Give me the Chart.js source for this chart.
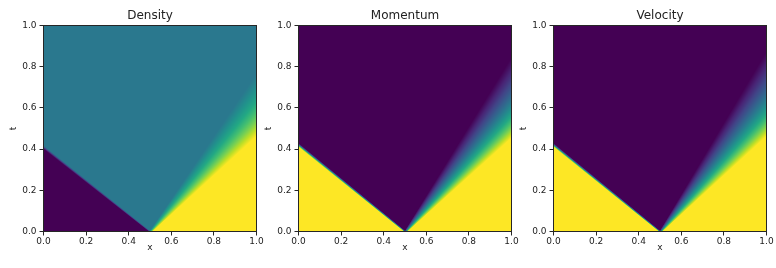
<!DOCTYPE html>
<html><head><meta charset="utf-8">
<script src="https://cdn.jsdelivr.net/npm/chart.js@4"></script>
<style>
html,body{margin:0;padding:0;background:#fff;}
#wrap{position:relative;width:776px;height:268px;background:#fff;}
canvas{position:absolute;left:0;top:0;}
</style>
</head><body>
<div id="wrap">
<canvas id="c0" width="776" height="268"></canvas>
<canvas id="c1" width="776" height="268"></canvas>
<canvas id="c2" width="776" height="268"></canvas>
</div>
<script>
// ---- data ----
const panelTitles = ['Density', 'Momentum', 'Velocity'];
const xTickValues = [0, 0.2, 0.4, 0.6, 0.8, 1.0];
const xTickLabels = ['0.0', '0.2', '0.4', '0.6', '0.8', '1.0'];
const tTickValues = [0, 0.2, 0.4, 0.6, 0.8, 1.0];
const tTickLabels = ['0.0', '0.2', '0.4', '0.6', '0.8', '1.0'];
const jumpPositions = [0.5, 0.5, 0.5];         // x of the initial discontinuity
const leftStates = [0.0, 1.0, 1.0];            // colour value left of the left wave
const middleStates = [0.4, 0.0, 0.0];          // colour value between the waves
const rightStates = [1.0, 1.0, 1.0];           // colour value right of the fan
const shockSpeeds = [1.22, 1.19, 1.19];        // left wave: x = x0 - s t
const fanSlowSpeeds = [0.67, 0.61, 0.59];      // fan edge next to middle state
const fanFastSpeeds = [1.04, 1.06, 1.04];      // fan edge next to right state
const gridCols = 213, gridRows = 206;

// ---- layout ----
const areaLeft = [43.5, 298.5, 553.5];
const areaRight = [256.5, 511.5, 766.5];
const areaTop = 25.5, areaBottom = 231.5;
const yAxisWidth = 43.5;

// ---- viridis colormap ----
const viridisStops = ['#440154','#482475','#414487','#355f8d','#2a788e','#21918c','#22a884','#44bf70','#7ad151','#bddf26','#fde725'];
const vRGB = viridisStops.map(h => [parseInt(h.slice(1,3),16), parseInt(h.slice(3,5),16), parseInt(h.slice(5,7),16)]);
function viridis(v) {
  v = Math.max(0, Math.min(1, v));
  const p = v * (vRGB.length - 1);
  const i = Math.min(vRGB.length - 2, Math.floor(p));
  const f = p - i;
  const a = vRGB[i], b = vRGB[i + 1];
  return 'rgb(' + Math.round(a[0] + (b[0]-a[0])*f) + ',' + Math.round(a[1] + (b[1]-a[1])*f) + ',' + Math.round(a[2] + (b[2]-a[2])*f) + ')';
}
function smooth(u) { u = Math.max(0, Math.min(1, u)); return u * u * (3 - 2 * u); }

function buildCells(k) {
  const cells = [];
  const x0 = jumpPositions[k];
  for (let j = 0; j < gridRows; j++) {
    const tl = j / gridRows, th = (j + 1) / gridRows, t = (tl + th) / 2;
    const w = 0.014 + 0.03 * t;
    for (let i = 0; i < gridCols; i++) {
      const xl = i / gridCols, xh = (i + 1) / gridCols, x = (xl + xh) / 2;
      let v;
      if (x < x0) {
        const xs = x0 - shockSpeeds[k] * t;
        const f = smooth((x - xs) / w + 0.5);
        v = leftStates[k] + (middleStates[k] - leftStates[k]) * f;
      } else {
        const xa = x0 + fanSlowSpeeds[k] * t, xb = x0 + fanFastSpeeds[k] * t;
        const g = Math.max(0, Math.min(1, (x - xa + w / 2) / (xb - xa + w)));
        v = middleStates[k] + (rightStates[k] - middleStates[k]) * g;
      }
      cells.push({x: x, y: t, x0: xl, x1: xh, y0: tl, y1: th, v: v});
    }
  }
  return cells;
}

const snap = p => Math.round(p + 0.25);
const heatPlugin = {
  id: 'heat',
  beforeDatasetsDraw(chart) {
    const {ctx, chartArea: a, scales} = chart;
    const sx = scales.x, sy = scales.y;
    ctx.save();
    ctx.beginPath(); ctx.rect(a.left, a.top, a.right - a.left, a.bottom - a.top); ctx.clip();
    for (const c of chart.data.datasets[0].data) {
      const px0 = snap(sx.getPixelForValue(c.x0)), px1 = snap(sx.getPixelForValue(c.x1));
      const py0 = snap(sy.getPixelForValue(c.y1)), py1 = snap(sy.getPixelForValue(c.y0));
      if (px1 <= px0 || py1 <= py0) continue;
      ctx.fillStyle = viridis(c.v);
      ctx.fillRect(px0, py0, px1 - px0, py1 - py0);
    }
    ctx.restore();
  },
  afterDraw(chart) {
    const {ctx, chartArea: a} = chart;
    const k = chart.options.plugins.heat.panel;
    ctx.save();
    ctx.strokeStyle = '#262626'; ctx.lineWidth = 1;
    ctx.strokeRect(a.left, a.top, a.right - a.left, a.bottom - a.top);
    ctx.fillStyle = '#222';
    ctx.font = '12px "DejaVu Sans"';
    ctx.textAlign = 'center'; ctx.textBaseline = 'alphabetic';
    ctx.fillText(panelTitles[k], (a.left + a.right) / 2, 19);
    ctx.font = '9px "DejaVu Sans"';
    ctx.fillText('x', (a.left + a.right) / 2, 250);
    ctx.translate(a.left - 28, (a.top + a.bottom) / 2);
    ctx.rotate(-Math.PI / 2);
    ctx.fillText('t', 0, 0);
    ctx.restore();
  }
};

for (let k = 0; k < 3; k++) {
  new Chart(document.getElementById('c' + k), {
    type: 'scatter',
    data: { datasets: [{ data: buildCells(k), pointRadius: 0, pointHoverRadius: 0, showLine: false }] },
    options: {
      responsive: false, animation: false, devicePixelRatio: 1,
      events: [],
      layout: { padding: { left: areaLeft[k] - yAxisWidth, right: 776 - areaRight[k], top: areaTop, bottom: 0 } },
      plugins: { legend: { display: false }, tooltip: { enabled: false }, heat: { panel: k } },
      scales: {
        x: {
          type: 'linear', min: 0, max: 1,
          afterBuildTicks: s => { s.ticks = xTickValues.map(v => ({ value: v })); },
          afterFit: s => { s.height = 268 - areaBottom; },
          grid: { display: true, drawOnChartArea: false, drawTicks: true, tickLength: 4, tickColor: '#262626', color: '#262626' },
          border: { display: false },
          ticks: { callback: (v, i) => xTickLabels[i], color: '#222', font: { family: 'DejaVu Sans', size: 9 }, padding: 1, maxRotation: 0, autoSkip: false }
        },
        y: {
          type: 'linear', min: 0, max: 1,
          afterBuildTicks: s => { s.ticks = tTickValues.map(v => ({ value: v })); },
          afterFit: s => { s.width = yAxisWidth; },
          grid: { display: true, drawOnChartArea: false, drawTicks: true, tickLength: 4, tickColor: '#262626', color: '#262626' },
          border: { display: false },
          ticks: { callback: (v, i) => tTickLabels[i], color: '#222', font: { family: 'DejaVu Sans', size: 9 }, padding: 3, autoSkip: false }
        }
      }
    },
    plugins: [heatPlugin]
  });
}
</script>
</body></html>
